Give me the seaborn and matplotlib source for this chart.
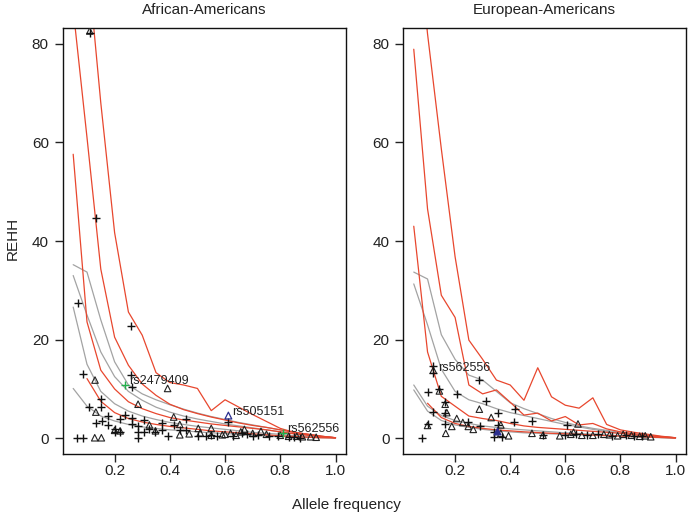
import numpy as np
import pandas as pd
import matplotlib
matplotlib.use("Agg")
import matplotlib.pyplot as plt
import seaborn as sns

# ---------------- data ----------------
freq_bins = [0.05, 0.10, 0.15, 0.20, 0.25, 0.30, 0.35, 0.40, 0.45, 0.50,
             0.55, 0.60, 0.65, 0.70, 0.75, 0.80, 0.85, 0.90, 0.95, 1.00]

# African-Americans: threshold curves
aa_red_a = [57.6, 23.6, 13.8, 10.0, 7.4, 6.0, 5.0, 4.2, 3.7, 3.3, 2.9, 2.6, 2.3, 2.0, 1.7, 1.3, 0.9, 0.6, 0.3, 0.1]
aa_red_b = [87.0, 61.0, 34.3, 20.5, 14.8, 11.0, 8.7, 6.9, 5.8, 5.0, 4.3, 3.7, 3.1, 2.6, 2.2, 1.7, 1.2, 0.8, 0.4, 0.1]
aa_red_c = [125.0, 98.0, 68.0, 41.7, 25.6, 20.9, 13.3, 11.3, 10.8, 10.1, 5.6, 7.8, 6.3, 4.8, 3.4, 2.0, 1.2, 0.8, 0.4, 0.1]
aa_red_d = [np.nan, 12.1, 7.5, 5.2, 4.0, 3.3, 2.8, 2.4, 2.1, 1.8, 1.5, 1.3, 1.1, 0.9, 0.7, 0.5, 0.35, 0.2, 0.1, 0.05]
aa_gray_1 = [35.2, 33.7, 24.0, 15.5, 10.8, 9.0, 7.8, 6.8, 5.9, 5.1, 4.4, 3.8, 3.2, 2.7, 2.2, 1.7, 1.2, 0.8, 0.4, 0.1]
aa_gray_2 = [33.0, 25.0, 17.5, 12.5, 9.5, 7.7, 6.3, 5.3, 4.5, 3.9, 3.4, 2.9, 2.5, 2.1, 1.7, 1.3, 0.9, 0.6, 0.3, 0.1]
aa_gray_3 = [26.6, 15.0, 9.5, 7.0, 5.5, 4.5, 3.8, 3.2, 2.8, 2.4, 2.1, 1.8, 1.5, 1.2, 1.0, 0.8, 0.5, 0.3, 0.2, 0.1]
aa_gray_4 = [10.1, 6.5, 4.5, 3.5, 2.8, 2.3, 2.0, 1.7, 1.5, 1.3, 1.1, 0.95, 0.8, 0.65, 0.5, 0.4, 0.3, 0.2, 0.1, 0.05]

# European-Americans: threshold curves
ea_red_a = [43.0, 17.5, 8.5, 6.5, 4.5, 4.0, 3.6, 3.0, 2.5, 2.2, 2.0, 1.8, 1.6, 1.4, 1.2, 1.0, 0.7, 0.4, 0.2, 0.1]
ea_red_b = [78.9, 46.5, 29.0, 24.5, 10.8, 9.0, 9.8, 7.3, 4.7, 5.1, 3.5, 4.4, 2.7, 3.0, 1.9, 1.3, 0.9, 0.6, 0.3, 0.1]
ea_red_c = [110.0, 82.0, 58.7, 36.8, 19.9, 16.0, 11.8, 10.8, 7.7, 14.3, 8.4, 6.7, 6.1, 8.2, 2.8, 1.7, 1.2, 0.8, 0.4, 0.1]
ea_red_d = [np.nan, 7.1, 4.2, 3.0, 2.4, 2.0, 1.7, 1.5, 1.3, 1.15, 1.0, 0.9, 0.8, 0.65, 0.55, 0.45, 0.35, 0.25, 0.15, 0.05]
ea_gray_1 = [33.7, 32.3, 21.0, 16.0, 12.8, 11.8, 9.5, 7.2, 6.0, 5.0, 4.0, 3.2, 2.5, 2.0, 1.6, 1.2, 0.9, 0.6, 0.3, 0.1]
ea_gray_2 = [31.3, 23.0, 14.0, 9.5, 7.8, 7.0, 6.0, 5.2, 4.6, 4.0, 3.4, 2.8, 2.3, 1.8, 1.4, 1.0, 0.7, 0.45, 0.25, 0.1]
ea_gray_3 = [10.8, 6.5, 4.6, 3.6, 3.0, 2.5, 2.2, 1.9, 1.7, 1.5, 1.3, 1.1, 0.95, 0.8, 0.65, 0.5, 0.4, 0.3, 0.15, 0.05]
ea_gray_4 = [9.8, 5.5, 3.6, 2.7, 2.2, 1.8, 1.5, 1.3, 1.1, 1.0, 0.9, 0.8, 0.7, 0.6, 0.5, 0.4, 0.3, 0.2, 0.1, 0.05]

# African-Americans: SNPs (+ markers)
aa_plus_x = [0.110, 0.132, 0.261, 0.066, 0.087, 0.259, 0.263, 0.151, 0.109, 0.151, 0.132, 0.154,
             0.176, 0.176, 0.218, 0.239, 0.263, 0.263, 0.285, 0.285, 0.285, 0.305, 0.305, 0.326,
             0.372, 0.372, 0.414, 0.436, 0.457, 0.457, 0.503, 0.550, 0.570, 0.612, 0.630, 0.680,
             0.720, 0.760, 0.850, 0.870, 0.065, 0.085, 0.200, 0.200, 0.220, 0.348, 0.392, 0.530,
             0.660, 0.700, 0.790, 0.830]
aa_plus_y = [82.2, 44.6, 22.8, 27.5, 13.1, 12.8, 10.3, 7.9, 6.4, 6.4, 3.0, 3.5,
             4.6, 2.7, 4.0, 4.7, 4.2, 2.8, 2.4, 1.3, 0.1, 3.7, 1.3, 1.9,
             3.0, 1.7, 2.7, 1.7, 3.9, 1.7, 0.5, 0.6, 0.5, 3.2, 0.4, 0.8,
             0.6, 0.5, 0.3, 0.1, 0.1, 0.1, 1.8, 1.2, 1.3, 1.3, 0.5, 0.4,
             1.0, 0.5, 0.4, 0.3]
# African-Americans: SNPs (triangles)
aa_tri_x = [0.110, 0.129, 0.392, 0.285, 0.132, 0.200, 0.220, 0.326, 0.348, 0.414, 0.436, 0.436,
            0.503, 0.550, 0.550, 0.590, 0.657, 0.670, 0.700, 0.730, 0.750, 0.128, 0.152, 0.800,
            0.830, 0.860, 0.880, 0.910, 0.930, 0.600, 0.620, 0.640, 0.470, 0.510]
aa_tri_y = [82.6, 11.8, 10.1, 6.9, 5.3, 1.6, 1.5, 2.7, 1.5, 4.3, 2.8, 0.7,
            2.0, 2.0, 0.6, 0.7, 1.3, 1.8, 1.0, 1.4, 0.8, 0.1, 0.1, 0.6,
            0.4, 0.4, 0.3, 0.3, 0.2, 0.8, 1.0, 0.6, 0.9, 1.1]

# European-Americans: SNPs (+ markers)
ea_plus_x = [0.121, 0.121, 0.288, 0.103, 0.143, 0.206, 0.313, 0.164, 0.416, 0.121, 0.164, 0.354,
             0.248, 0.164, 0.291, 0.354, 0.415, 0.479, 0.606, 0.100, 0.341, 0.519, 0.079, 0.600,
             0.640, 0.680, 0.720, 0.770, 0.820, 0.850, 0.880, 0.370, 0.340]
ea_plus_y = [14.7, 13.2, 11.9, 9.4, 10.0, 8.9, 7.6, 7.3, 5.9, 5.4, 5.2, 5.2,
             3.2, 2.8, 2.4, 2.7, 3.2, 3.4, 2.6, 2.9, 1.3, 0.6, 0.1, 0.7,
             0.8, 0.6, 0.9, 0.5, 0.7, 0.4, 0.5, 0.3, 0.3]
# European-Americans: SNPs (triangles)
ea_tri_x = [0.121, 0.143, 0.164, 0.288, 0.170, 0.331, 0.206, 0.228, 0.188, 0.248, 0.266, 0.366,
            0.646, 0.100, 0.166, 0.366, 0.394, 0.479, 0.519, 0.580, 0.620, 0.630, 0.660, 0.700,
            0.740, 0.760, 0.790, 0.810, 0.840, 0.870, 0.890, 0.910]
ea_tri_y = [13.8, 9.6, 6.9, 5.9, 5.2, 4.2, 4.0, 3.2, 2.4, 2.4, 1.8, 2.7,
            2.9, 2.6, 1.0, 1.0, 0.5, 1.0, 0.6, 0.5, 0.8, 1.2, 0.6, 0.6,
            0.8, 0.7, 0.5, 0.8, 0.6, 0.4, 0.5, 0.3]

# highlighted SNPs
aa_hi_labels = ["rs2479409", "rs505151", "rs562556"]
aa_hi_x = [0.239, 0.612, 0.811]
aa_hi_y = [10.8, 4.6, 1.1]
aa_hi_kind = ["plus_green", "tri_blue", "plus_green"]
ea_hi_labels = ["rs562556"]
ea_hi_x = [0.121]
ea_hi_y = [14.1]
ea_blue_tri_x = [0.352]
ea_blue_tri_y = [1.4]

x_ticks = [0.2, 0.4, 0.6, 0.8, 1.0]
x_tick_labels = ["0.2", "0.4", "0.6", "0.8", "1.0"]
y_ticks = [0, 20, 40, 60, 80]
titles = ["African-Americans", "European-Americans"]

# ---------------- style ----------------
sns.set_style("ticks")
plt.rcParams["font.family"] = ["Liberation Sans", "DejaVu Sans"]
plt.rcParams["axes.linewidth"] = 1.0

RED = "#e8472e"
GRAY = "#a3a3a3"
GREEN = "#22b04b"
BLUE = "#2b2f8f"
TXT = "#222222"

fig = plt.figure(figsize=(6.92, 5.19), dpi=100)
ax_l = fig.add_axes([0.0906, 0.1252, 0.4094, 0.8208])
ax_r = fig.add_axes([0.5828, 0.1252, 0.4085, 0.8208])

panels = [
    (ax_l, [aa_gray_1, aa_gray_2, aa_gray_3, aa_gray_4], [aa_red_a, aa_red_b, aa_red_c, aa_red_d],
     aa_plus_x, aa_plus_y, aa_tri_x, aa_tri_y),
    (ax_r, [ea_gray_1, ea_gray_2, ea_gray_3, ea_gray_4], [ea_red_a, ea_red_b, ea_red_c, ea_red_d],
     ea_plus_x, ea_plus_y, ea_tri_x, ea_tri_y),
]

for i, (ax, grays, reds, px, py, tx, ty) in enumerate(panels):
    for g in grays:
        sns.lineplot(x=freq_bins, y=g, ax=ax, color=GRAY, lw=0.9, estimator=None, sort=False)
    for r in reds:
        sns.lineplot(x=freq_bins, y=r, ax=ax, color=RED, lw=0.9, estimator=None, sort=False)
    sns.scatterplot(x=tx, y=ty, ax=ax, marker="^", s=22, facecolor="none",
                    edgecolor="#222222", linewidth=0.8, zorder=3)
    sns.scatterplot(x=px, y=py, ax=ax, marker="+", s=40, color="#111111",
                    linewidth=1.0, zorder=4)
    ax.set_xlim(0.012, 1.038)
    ax.set_ylim(-3.2, 83.2)
    ax.set_xticks(x_ticks)
    ax.set_xticklabels(x_tick_labels)
    ax.set_yticks(y_ticks)
    ax.tick_params(axis="both", labelsize=11, length=6, width=1.0, colors="#222222",
                   labelcolor=TXT, direction="out")
    ax.tick_params(axis="x", pad=1.5)
    ax.tick_params(axis="y", pad=4)
    for sp in ax.spines.values():
        sp.set_visible(True)
        sp.set_color("#111111")
    ax.set_xlabel("")
    ax.set_ylabel("")
    ax.set_title(titles[i], fontsize=11, color=TXT, pad=10)

# highlighted SNPs, left panel
for lab, hx, hy, kind in zip(aa_hi_labels, aa_hi_x, aa_hi_y, aa_hi_kind):
    if kind == "plus_green":
        sns.scatterplot(x=[hx], y=[hy], ax=ax_l, marker="+", s=40, color=GREEN, linewidth=1.0, zorder=5)
        off = (2.5, 3.0)
    else:
        sns.scatterplot(x=[hx], y=[hy], ax=ax_l, marker="^", s=24, facecolor="none",
                        edgecolor=BLUE, linewidth=0.9, zorder=5)
        off = (3.0, 2.5)
    ax_l.annotate(lab, (hx, hy), xytext=off, textcoords="offset points",
                  ha="left", va="center", fontsize=9, color=TXT, zorder=6)

# highlighted SNPs, right panel
sns.scatterplot(x=ea_blue_tri_x, y=ea_blue_tri_y, ax=ax_r, marker="^", s=24, facecolor=BLUE,
                edgecolor=BLUE, linewidth=0.9, zorder=5)
for lab, hx, hy in zip(ea_hi_labels, ea_hi_x, ea_hi_y):
    ax_r.annotate(lab, (hx, hy), xytext=(3.5, 0.5), textcoords="offset points",
                  ha="left", va="center", fontsize=9, color=TXT, zorder=6)

fig.text(0.018, 0.54, "REHH", rotation=90, ha="center", va="center", fontsize=11, color=TXT)
fig.text(0.50, 0.027, "Allele frequency", ha="center", va="center", fontsize=11, color=TXT)

fig.savefig("out.png", dpi=100)
